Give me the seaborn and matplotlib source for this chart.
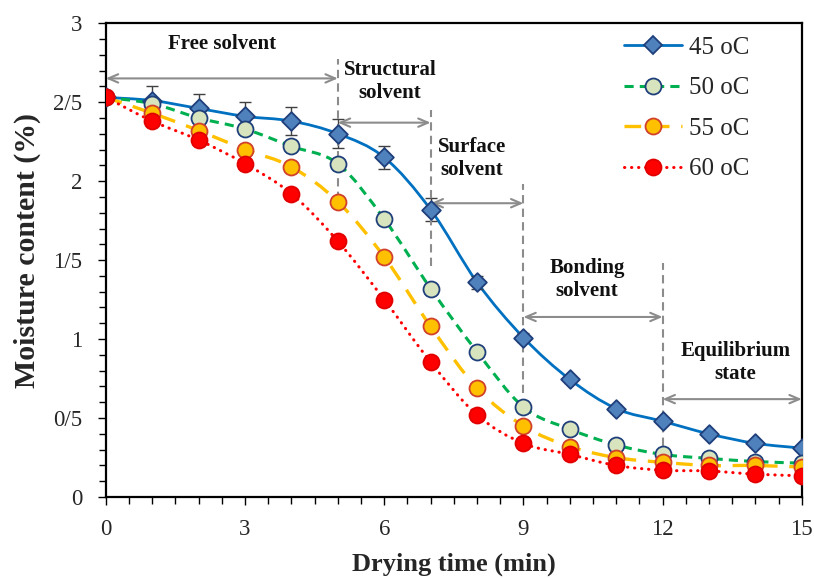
import numpy as np
import pandas as pd
import matplotlib
matplotlib.use('Agg')
import matplotlib.pyplot as plt
from matplotlib.path import Path
from matplotlib.patches import PathPatch
from matplotlib.lines import Line2D
from matplotlib.ticker import MultipleLocator
import seaborn as sns

# drying time (min)
time_min = [0, 1, 2, 3, 4, 5, 6, 7, 8, 9, 10, 11, 12, 13, 14, 15]

# moisture content (%) for each drying temperature
mc_45 = [2.53, 2.51, 2.46, 2.41, 2.38, 2.30, 2.15, 1.82, 1.36, 1.01, 0.745, 0.56, 0.48, 0.40, 0.34, 0.31]
mc_50 = [2.53, 2.49, 2.40, 2.33, 2.22, 2.11, 1.76, 1.32, 0.92, 0.57, 0.43, 0.33, 0.27, 0.245, 0.225, 0.215]
mc_55 = [2.53, 2.43, 2.32, 2.20, 2.09, 1.87, 1.52, 1.08, 0.69, 0.45, 0.32, 0.25, 0.22, 0.20, 0.20, 0.19]
mc_60 = [2.53, 2.38, 2.26, 2.11, 1.92, 1.62, 1.25, 0.855, 0.52, 0.34, 0.27, 0.20, 0.17, 0.165, 0.145, 0.135]

# error bars on the 45 oC series
err_45 = [0.03, 0.09, 0.09, 0.09, 0.09, 0.09, 0.075, 0.07, 0.04, 0.03, 0.02, 0.02, 0.02, 0.02, 0.02, 0.02]

series_labels = ['45 oC', '50 oC', '55 oC', '60 oC']

y_ticks = [0, 0.5, 1, 1.5, 2, 2.5, 3]
y_tick_labels = ['0', '0/5', '1', '1/5', '2', '2/5', '3']
x_ticks = [0, 3, 6, 9, 12, 15]

# drying stages: boundaries and labels
stage_bounds = [0, 5, 7, 9, 12, 15]
stage_names = ['Free solvent', 'Structural\nsolvent', 'Surface\nsolvent',
               'Bonding\nsolvent', 'Equilibrium\nstate']

sns.set_style('ticks')
plt.rcParams['font.family'] = ['Liberation Serif', 'DejaVu Serif']


def smooth_path(x, y):
    # Bezier path through the points, like a spreadsheet "smoothed line"
    pts = np.column_stack([x, y]).astype(float)
    p = np.vstack([pts[0], pts, pts[-1]])
    verts = [pts[0]]
    codes = [Path.MOVETO]
    for i in range(len(pts) - 1):
        p0, p1, p2, p3 = p[i], p[i + 1], p[i + 2], p[i + 3]
        verts += [p1 + (p2 - p0) / 6, p2 - (p3 - p1) / 6, p2]
        codes += [Path.CURVE4] * 3
    return Path(verts, codes)


styles = [
    dict(line='#0070C0', ls='-', lw=2.0, marker='D', ms=9.5, face='#4F81BD', edge='#1F3F7A', cap='butt'),
    dict(line='#00B050', ls=(0, (3, 2)), lw=2.2, marker='o', ms=11.5, face='#D7E4BD', edge='#1F3F7A', cap='butt'),
    dict(line='#FFC000', ls=(0, (5, 3.5)), lw=2.4, marker='o', ms=11.5, face='#FFC000', edge='#D0402A', cap='butt'),
    dict(line='#FF0000', ls=(0, (0.1, 2.2)), lw=2.2, marker='o', ms=11.5, face='#FF0000', edge='#E00000', cap='round'),
]

fig = plt.figure(figsize=(8.14, 5.78), dpi=100)
ax = fig.add_axes([0.130, 0.140, 0.855, 0.820])

all_series = [mc_45, mc_50, mc_55, mc_60]

# smooth lines
for k, (vals, st) in enumerate(zip(all_series, styles)):
    patch = PathPatch(smooth_path(time_min, vals), fill=False, edgecolor=st['line'],
                      linestyle=st['ls'], linewidth=st['lw'], capstyle=st['cap'],
                      zorder=2 + k * 0.1)
    ax.add_patch(patch)

# error bars on 45 oC
ax.errorbar(time_min, mc_45, yerr=err_45, fmt='none', ecolor='#404040',
            elinewidth=1.0, capsize=4, capthick=1.0, zorder=2.5)

# markers
for k, (vals, st) in enumerate(zip(all_series, styles)):
    df = pd.DataFrame({'t': time_min, 'mc': vals})
    sns.scatterplot(data=df, x='t', y='mc', ax=ax, marker=st['marker'], s=st['ms'] ** 2,
                    color=st['face'], edgecolor=st['edge'], linewidth=1.3,
                    zorder=4 + k, legend=False)

# stage separators, arrows and labels
grey = '#8C8C8C'
sep_ranges = {5: (1.88, 2.77), 7: (1.46, 2.45), 9: (0.66, 1.98), 12: (0.155, 1.48)}
for xb, (y0, y1) in sep_ranges.items():
    ax.plot([xb, xb], [y0, y1], color=grey, lw=1.5, ls=(0, (4, 2.5)), zorder=3)

arrow_y = [2.65, 2.37, 1.86, 1.14, 0.62]
label_pos = [(2.5, 2.87), (6.13, 2.63), (7.89, 2.14), (10.37, 1.38), (13.57, 0.85)]
for i in range(5):
    ax.annotate('', xy=(stage_bounds[i + 1], arrow_y[i]), xytext=(stage_bounds[i], arrow_y[i]),
                arrowprops=dict(arrowstyle='<->,head_length=0.7,head_width=0.3',
                                color=grey, lw=1.5, shrinkA=0, shrinkB=0), zorder=3)
    ax.text(label_pos[i][0], label_pos[i][1], stage_names[i], ha='center', va='center',
            fontsize=15, fontweight='bold', linespacing=1.2, color='#111111')

ax.set_xlim(0, 15)
ax.set_ylim(0, 3)
ax.set_xticks(x_ticks)
ax.set_yticks(y_ticks)
ax.set_yticklabels(y_tick_labels)
ax.xaxis.set_minor_locator(MultipleLocator(0.5))
ax.yaxis.set_minor_locator(MultipleLocator(0.1))
ax.tick_params(which='both', direction='out', labelsize=16.5, width=1.0, color='black',
               top=False, right=False)
ax.tick_params(axis='y', which='major', pad=11)
ax.tick_params(axis='x', which='major', pad=10)
ax.tick_params(which='major', length=6)
ax.tick_params(which='minor', length=5)
for sp in ax.spines.values():
    sp.set_visible(True)
    sp.set_linewidth(1.6)
    sp.set_color('black')

ax.set_xlabel('Drying time (min)', fontsize=19, fontweight='bold', labelpad=9)
ax.set_ylabel('Moisture content (%)', fontsize=21.5, fontweight='bold')
ax.yaxis.set_label_coords(-0.093, 0.52)

handles = [Line2D([], [], color=st['line'], ls=st['ls'], lw=st['lw'], marker=st['marker'],
                  markersize=st['ms'], markerfacecolor=st['face'], markeredgecolor=st['edge'],
                  markeredgewidth=1.3, dash_capstyle=st['cap'])
           for st in styles]
ax.legend(handles, series_labels, loc='center', bbox_to_anchor=(0.835, 0.82),
          frameon=False, fontsize=18, handlelength=2.3, handletextpad=0.3,
          labelspacing=0.72)

fig.savefig('out.png', dpi=100)
